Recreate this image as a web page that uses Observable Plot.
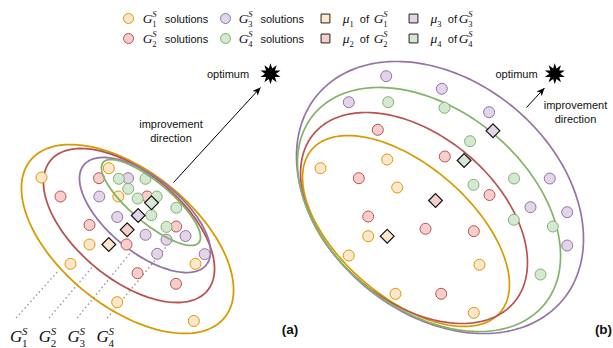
<!DOCTYPE html>
<html>
<head>
<meta charset="utf-8">
<script src="https://cdn.jsdelivr.net/npm/d3@7"></script>
<script src="https://cdn.jsdelivr.net/npm/@observablehq/plot@0.6"></script>
<style>
  html, body { margin: 0; padding: 0; background: #fff; }
  #chart svg { display: block; }
</style>
</head>
<body>
<div id="chart"></div>
<script>
// Groups G1..G4: stroke and fill colours
const strokeColors = ["#d79b00", "#b85450", "#9673a6", "#82b366"];
const fillColors   = ["#ffe6cc", "#f8cecc", "#e1d5e7", "#d5e8d4"];

// Panel (a): sampled solutions of each group, [x, y] in diagram units
const leftG1 = [[41,177],[108.3,167.7],[117.8,196],[89,244],[70,263.3],[195,263.3],[116.7,301.7],[193.3,320.5]];
const leftG2 = [[60,196],[98.5,177.7],[146.7,196],[89,224.5],[126,244],[175.7,226],[137,272.7],[175.5,283.3]];
const leftG3 = [[127.5,177.7],[98.8,196],[116.7,216.5],[145,234.3],[166,239.2],[185,235.5],[156.7,253.3],[204.2,253.7]];
const leftG4 = [[118.3,178.3],[145,178.3],[127.7,188.3],[137.2,198],[156.2,196],[150.8,214.7],[175.8,207.3],[166,226.4]];
// Panel (a): group means mu1..mu4
const leftMeans = [[108.3,244],[126.7,229.3],[137.7,215],[151,202.3]];
// Panel (a): group contours [cx, cy, semi-major, semi-minor, tilt in degrees]
const leftContours = [
  [127, 238.5, 124.9, 67.6, 38.9],
  [128.5, 225, 101.9, 53.5, 39.7],
  [144.5, 214.5, 79, 36.9, 39.2],
  [150.5, 202, 62.4, 20.1, 40]
];

// Panel (b)
const rightG1 = [[320,167.7],[386.7,159],[396.7,187],[367.7,235.7],[348.3,255],[479,264.3],[395,293.3],[473.3,312.3]];
const rightG2 = [[377.3,129.3],[444.3,156],[358.3,177.7],[489,194.5],[367.7,216],[425,228.3],[473.3,230.7],[440.7,293.3]];
const rightG3 = [[385.7,75.7],[441.3,88.3],[348.3,101.7],[488.6,111.7],[549.3,178],[530,206.7],[566.7,211.7],[566.7,245]];
const rightG4 = [[387.7,101.7],[444,107.3],[469.6,140.7],[513.6,178],[473,184.3],[513.3,219.3],[552.3,226],[540,274]];
const rightMeans = [[386.7,235.7],[435,200],[492.5,130.3],[463.6,160]];
const rightContours = [
  [405.5, 230.5, 124.5, 65.7, 40.9],
  [413.5, 217.5, 130.9, 82.9, 40.1],
  [439.5, 197, 159.9, 116.3, 40],
  [428.5, 209, 149.4, 99.4, 39.4]
];

// Optimum markers and improvement arrows [x1, y1, x2, y2]
const optima = [[270, 73.3], [554.3, 73.3]];
const arrows = [[173, 182, 260, 87], [526, 107, 544, 87.5]];
// Annotation texts [x, y, text]
const notes = [
  [227.5, 73.5, "optimum"], [170.5, 124, "improvement"], [170.5, 138.3, "direction"],
  [516, 73.5, "optimum"], [575, 105, "improvement"], [575, 118.5, "direction"]
];
const panelTags = [[289.5, 329, "(a)"], [603, 329, "(b)"]];

// Group name labels under panel (a) and their dotted leaders
const groupTags = [[9.6, 341.5, "G", "1", "S"], [38.3, 341.5, "G", "2", "S"], [67, 341.5, "G", "3", "S"], [96, 341.5, "G", "4", "S"]];
const leaders = [[16,317,58,270],[49,317,93,265],[77,317,131,251],[107,317,166,246]];

// Legend
const legendDots = [[128, 18, 0], [128, 38, 1], [225, 18, 2], [225, 38, 3]];
const legendSquares = [[325, 18, 0], [325, 38, 1], [413, 18, 2], [413, 38, 3]];
const legendMath = [
  [142.3, 22.7, "G", "1", "S"], [142.3, 42.7, "G", "2", "S"], [238.3, 22.7, "G", "3", "S"], [238.3, 42.7, "G", "4", "S"],
  [342.3, 22.7, "μ", "1", ""], [342.3, 42.7, "μ", "2", ""], [430, 22.7, "μ", "3", ""], [430, 42.7, "μ", "4", ""],
  [373.3, 22.7, "G", "1", "S"], [373.3, 42.7, "G", "2", "S"], [458.3, 22.7, "G", "3", "S"], [458.3, 42.7, "G", "4", "S"]
];
const legendWords = [
  [164.3, 22.7, "solutions"], [164.3, 42.7, "solutions"], [260, 22.7, "solutions"], [260, 42.7, "solutions"],
  [359.3, 22.7, "of"], [359.3, 42.7, "of"], [447.3, 22.7, "of"], [447.3, 42.7, "of"]
];

const sans = "Liberation Sans, Arial, sans-serif";
const serif = "Liberation Serif, Times New Roman, serif";

// Outline of a tilted ellipse as a closed polyline
function contourPoints([cx, cy, a, b, deg]) {
  const th = deg * Math.PI / 180, pts = [];
  for (let i = 0; i < 200; i++) {
    const t = 2 * Math.PI * i / 200;
    pts.push({
      x: cx + a * Math.cos(t) * Math.cos(th) - b * Math.sin(t) * Math.sin(th),
      y: cy + a * Math.cos(t) * Math.sin(th) + b * Math.sin(t) * Math.cos(th)
    });
  }
  return pts;
}

// Spiky "optimum" star
const starSymbol = {
  draw(context, size) {
    const R = Math.sqrt(size / Math.PI), r = R * 0.52, n = 10;
    for (let i = 0; i < 2 * n; i++) {
      const ang = Math.PI * i / n - Math.PI / 2;
      const rad = i % 2 ? r : R;
      const px = rad * Math.cos(ang), py = rad * Math.sin(ang);
      if (i) context.lineTo(px, py); else context.moveTo(px, py);
    }
    context.closePath();
  }
};

// Filled arrowhead with its tip at the origin, pointing up
const arrowHead = {
  draw(context, size) {
    const L = Math.sqrt(size / Math.PI);
    context.moveTo(0, 0);
    context.lineTo(-L * 0.45, L);
    context.lineTo(0, L * 0.72);
    context.lineTo(L * 0.45, L);
    context.closePath();
  }
};

// Letter with stacked subscript / superscript, as three text marks
function mathMarks(rows, size, smallSize) {
  const off = (d) => (d[2] === "G" ? 0.7 : 0.5) * size;
  return [
    Plot.text(rows, {x: d => d[0], y: d => d[1], text: d => d[2], textAnchor: "start", lineAnchor: "bottom",
      fontSize: size, fontFamily: serif, fontStyle: "italic", fill: "#111"}),
    Plot.text(rows, {x: d => d[0] + off(d), y: d => d[1], text: d => d[3], textAnchor: "start", lineAnchor: "bottom",
      dy: 0.27 * size, fontSize: smallSize, fontFamily: serif, fill: "#111"}),
    Plot.text(rows.filter(d => d[4]), {x: d => d[0] + off(d), y: d => d[1], text: d => d[4], textAnchor: "start", lineAnchor: "bottom",
      dy: -0.44 * size, fontSize: smallSize, fontFamily: serif, fontStyle: "italic", fill: "#111"})
  ];
}

const leftGroups = [leftG1, leftG2, leftG3, leftG4];
const rightGroups = [rightG1, rightG2, rightG3, rightG4];

const marks = [];

// dotted leaders from the group names
marks.push(Plot.link(leaders, {x1: d => d[0], y1: d => d[1], x2: d => d[2], y2: d => d[3],
  stroke: "#9a9a9a", strokeWidth: 1.6, strokeDasharray: "0.1,4.2", strokeLinecap: "round"}));

// contours (the innermost left one goes over the dots)
leftContours.forEach((c, g) => {
  if (g === 3) return;
  marks.push(Plot.line(contourPoints(c), {x: "x", y: "y", curve: "linear-closed", stroke: strokeColors[g], strokeWidth: 1.8}));
});
rightContours.forEach((c, g) => {
  marks.push(Plot.line(contourPoints(c), {x: "x", y: "y", curve: "linear-closed", stroke: strokeColors[g], strokeWidth: 1.7}));
});

// solutions
[leftGroups, rightGroups].forEach(groups => groups.forEach((pts, g) => {
  marks.push(Plot.dot(pts, {x: d => d[0], y: d => d[1], r: 5.5, fill: fillColors[g], stroke: strokeColors[g], strokeWidth: 1}));
}));

marks.push(Plot.line(contourPoints(leftContours[3]), {x: "x", y: "y", curve: "linear-closed", stroke: strokeColors[3], strokeWidth: 1.8}));

// group means
[leftMeans, rightMeans].forEach(means => means.forEach((m, g) => {
  marks.push(Plot.dot([m], {x: d => d[0], y: d => d[1], symbol: "diamond2", r: 6.2,
    fill: fillColors[g], stroke: "#111", strokeWidth: 1.2}));
}));

// optimum and improvement direction
marks.push(Plot.dot(optima, {x: d => d[0], y: d => d[1], symbol: starSymbol, r: 10.5, fill: "#000", stroke: "none"}));
marks.push(Plot.link(arrows, {x1: d => d[0], y1: d => d[1], x2: d => d[2], y2: d => d[3], stroke: "#000", strokeWidth: 1}));
marks.push(Plot.dot(arrows, {x: d => d[2], y: d => d[3], symbol: arrowHead, r: 8, fill: "#000", stroke: "none",
  rotate: d => Math.atan2(d[2] - d[0], d[1] - d[3]) * 180 / Math.PI}));
marks.push(Plot.text(notes, {x: d => d[0], y: d => d[1], text: d => d[2], textAnchor: "middle", lineAnchor: "middle",
  fontSize: 11, fontFamily: sans, fill: "#111"}));
marks.push(Plot.text(panelTags, {x: d => d[0], y: d => d[1], text: d => d[2], textAnchor: "middle", lineAnchor: "middle",
  fontSize: 13.5, fontWeight: "bold", fontFamily: sans, fill: "#111"}));

// group names below panel (a)
marks.push(...mathMarks(groupTags, 17, 11));

// legend
legendDots.forEach(d => marks.push(Plot.dot([d], {x: d => d[0], y: d => d[1], r: 5,
  fill: fillColors[d[2]], stroke: strokeColors[d[2]], strokeWidth: 1})));
legendSquares.forEach(d => marks.push(Plot.dot([d], {x: d => d[0], y: d => d[1], symbol: "square", r: 5,
  fill: fillColors[d[2]], stroke: "#222", strokeWidth: 1})));
marks.push(...mathMarks(legendMath, 13.5, 8.5));
marks.push(Plot.text(legendWords, {x: d => d[0], y: d => d[1], text: d => d[2], textAnchor: "start", lineAnchor: "bottom",
  fontSize: 11, fontFamily: sans, fill: "#111"}));

const chart = Plot.plot({
  width: 613,
  height: 348,
  margin: 0,
  x: {domain: [0, 613], range: [0, 613], axis: null},
  y: {domain: [0, 348], range: [0, 348], axis: null},
  style: {background: "#fff", fontFamily: sans},
  marks
});
document.getElementById("chart").appendChild(chart);
</script>
</body>
</html>
